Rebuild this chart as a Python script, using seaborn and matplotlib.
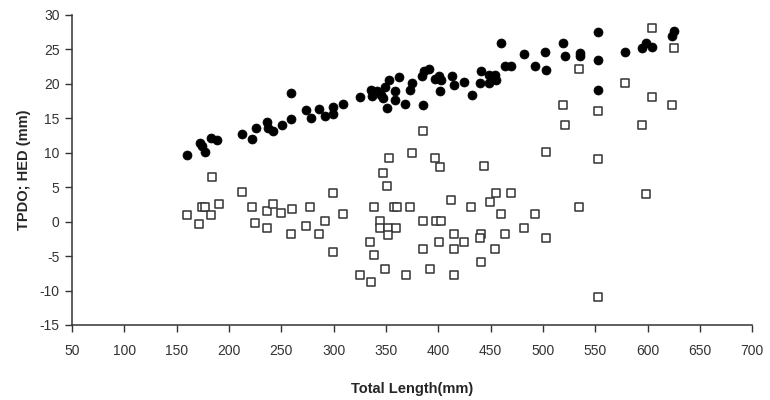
import pandas as pd
import seaborn as sns
import matplotlib.pyplot as plt

# filled circles (TPDO)
tpdo_len = [160, 172, 174, 177, 183, 189, 212, 222, 226, 236, 237, 242, 251, 259, 259,
            274, 278, 286, 292, 299, 299, 309, 325, 336, 337, 341, 345, 347, 349, 353,
            359, 362, 351, 359, 368, 373, 375, 385, 384, 386, 391, 397, 401, 403, 402,
            413, 415, 425, 432, 441, 440, 448, 448, 454, 455, 460, 464, 469, 482, 492,
            502, 503, 519, 521, 535, 535, 553, 553, 553, 578, 595, 598, 604, 623, 625]
tpdo_val = [9.7, 11.4, 11.0, 10.1, 12.2, 11.8, 12.7, 12.0, 13.6, 14.5, 13.6, 13.1, 14.0, 14.9, 18.7,
            16.2, 15.1, 16.3, 15.3, 16.7, 15.6, 17.1, 18.1, 19.1, 18.2, 18.9, 18.4, 17.9, 19.6, 20.5,
            18.9, 21.0, 16.5, 17.6, 17.1, 19.1, 20.2, 16.9, 21.1, 21.8, 22.2, 20.7, 21.2, 20.6, 18.9,
            21.2, 19.8, 20.3, 18.4, 21.8, 20.2, 21.3, 20.1, 21.3, 20.5, 25.9, 22.6, 22.6, 24.4, 22.6,
            24.7, 22.0, 25.9, 24.0, 24.5, 24.0, 27.6, 23.5, 19.1, 24.7, 25.2, 26.0, 25.4, 27.0, 27.7]

# open squares (HED)
hed_len = [160, 171, 174, 177, 183, 184, 190, 212, 222, 225, 236, 236, 242, 250, 260,
           259, 277, 274, 286, 292, 299, 299, 309, 325, 336, 335, 339, 339, 347, 351,
           344, 344, 352, 360, 352, 349, 353, 358, 361, 373, 369, 375, 385, 385, 385,
           392, 397, 398, 403, 401, 402, 412, 415, 415, 415, 425, 431, 444, 441, 440,
           441, 449, 455, 469, 454, 460, 464, 482, 492, 503, 503, 519, 521, 534, 534,
           553, 553, 553, 578, 595, 598, 604, 604, 623, 625]
hed_val = [1.0, -0.4, 2.2, 2.2, 0.9, 6.5, 2.5, 4.3, 2.2, -0.2, 1.5, -0.9, 2.5, 1.3, 1.8,
           -1.8, 2.2, -0.6, -1.8, 0.1, 4.1, -4.4, 1.1, -7.8, -8.8, -2.9, -4.8, 2.2, 7.1, 5.2,
           0.1, -0.9, -0.9, -0.9, -1.9, -6.9, 9.2, 2.2, 2.2, 2.2, -7.8, 10.0, 13.2, 0.1, -3.9,
           -6.9, 9.2, 0.1, 0.1, -2.9, 8.0, 3.1, -1.8, -3.9, -7.8, -2.9, 2.2, 8.1, -1.8, -2.3,
           -5.8, 2.9, 4.1, 4.1, -3.9, 1.1, -1.8, -0.9, 1.1, -2.3, 10.1, 17.0, 14.0, 22.1, 2.2,
           16.1, 9.1, -10.9, 20.1, 14.1, 4.0, 28.1, 18.1, 17.0, 25.2]

x_ticks = list(range(50, 701, 50))
y_ticks = list(range(-15, 31, 5))

tpdo = pd.DataFrame({"length": tpdo_len, "value": tpdo_val})
hed = pd.DataFrame({"length": hed_len, "value": hed_val})

sns.set_style("white")
plt.rcParams['font.family'] = ['Liberation Sans', 'DejaVu Sans']
plt.rcParams['axes.unicode_minus'] = False

fig = plt.figure(figsize=(7.7, 4), dpi=100)
ax = fig.add_axes([0.0935, 0.1875, 0.8835, 0.775])

sns.scatterplot(data=hed, x="length", y="value", ax=ax, marker="s", s=30,
                facecolor="white", edgecolor="#333333", linewidth=1.1, zorder=2)
sns.scatterplot(data=tpdo, x="length", y="value", ax=ax, marker="o", s=42,
                color="black", edgecolor="black", linewidth=0.5, zorder=3)

ax.set_xlim(50, 700)
ax.set_ylim(-15, 30)
ax.set_xticks(x_ticks)
ax.set_yticks(y_ticks)
ax.tick_params(axis="both", bottom=True, left=True, direction="out", length=5, width=1,
               colors="#333333", labelsize=10, labelcolor="#333333")
ax.tick_params(axis="x", pad=9)
ax.tick_params(axis="y", pad=4)

sns.despine(ax=ax)
for side in ["left", "bottom"]:
    ax.spines[side].set_color("#333333")
    ax.spines[side].set_linewidth(1.1)

ax.set_xlabel("Total Length(mm)", fontsize=10.5, fontweight="bold", labelpad=17)
ax.set_ylabel("TPDO; HED (mm)", fontsize=10.5, fontweight="bold", labelpad=6)

fig.savefig("out.png", dpi=100)
